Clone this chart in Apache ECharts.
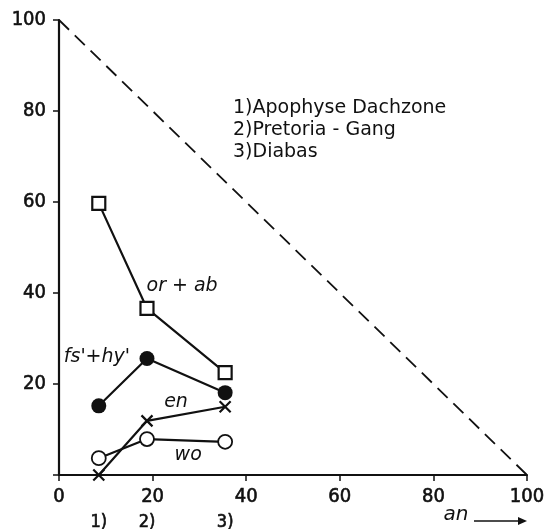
<!DOCTYPE html>
<html>
<head>
<meta charset="utf-8">
<script src="https://cdn.jsdelivr.net/npm/echarts@6/dist/echarts.min.js"></script>
<style>
  html, body { margin: 0; background: #fff; }
  #chart { width: 548px; height: 529px; }
</style>
</head>
<body>
<div id="chart"></div>
<script>
// an content of the three samples (x) and the normative components (y)
const anValues = [8.5, 18.8, 35.5];
const sampleTags = ["1)", "2)", "3)"];
const orAb = [59.7, 36.6, 22.5];
const fsHy = [15.2, 25.6, 18.1];
const enValues = [0, 11.9, 15];
const woValues = [3.7, 7.9, 7.3];
const tieLine = [[0, 100], [100, 0]];
const sampleNames = ["1)Apophyse Dachzone", "2)Pretoria - Gang", "3)Diabas"];
const curveLabels = [
  { text: "or + ab", at: [26.3, 41.6] },
  { text: "fs'+hy'", at: [8.1, 26] },
  { text: "en", at: [25, 16.1] },
  { text: "wo", at: [27.6, 4.4] },
];

const ink = "#111";
const tickFont = "DejaVu Sans Condensed";

function pairs(ys) {
  return anValues.map((x, i) => [x, ys[i]]);
}

function curve(name, ys, symbol, size, fill, border) {
  return {
    name,
    type: "line",
    data: pairs(ys),
    symbol,
    symbolSize: size,
    showAllSymbol: true,
    lineStyle: { color: ink, width: 2.2 },
    itemStyle: { color: fill, borderColor: ink, borderWidth: border },
    z: 3,
  };
}

// tick labels: tall condensed digits, slightly thickened like the print
const tickLabel = {
  color: ink,
  fontFamily: tickFont,
  fontSize: 20,
  textBorderColor: ink,
  textBorderWidth: 0.6,
};

const chart = echarts.init(document.getElementById("chart"));

chart.setOption({
  animation: false,
  grid: { left: 59, right: 21, top: 20, bottom: 54 },
  xAxis: {
    type: "value",
    min: 0,
    max: 100,
    interval: 20,
    axisLine: { lineStyle: { color: ink, width: 2.2 } },
    axisTick: { show: true, length: 6, lineStyle: { color: ink, width: 1.5 } },
    axisLabel: Object.assign({ margin: 12 }, tickLabel),
    splitLine: { show: false },
  },
  yAxis: {
    type: "value",
    min: 0,
    max: 100,
    interval: 20,
    axisLine: { lineStyle: { color: ink, width: 2.2 } },
    axisTick: { show: true, length: 6, lineStyle: { color: ink, width: 1.5 } },
    axisLabel: Object.assign({ margin: 13, formatter: (v) => (v === 0 ? "" : v) }, tickLabel),
    splitLine: { show: false },
  },
  series: [
    {
      name: "tie",
      type: "line",
      data: tieLine,
      symbol: "none",
      lineStyle: { color: ink, width: 1.8, type: [14, 8] },
      z: 1,
    },
    curve("or+ab", orAb, "rect", 13, "#fff", 2.2),
    curve("fs+hy", fsHy, "circle", 15, ink, 0),
    curve("en", enValues, "path://M0,0L10,10M10,0L0,10", 11, "none", 2.2),
    curve("wo", woValues, "circle", 14, "#fff", 1.8),
  ],
});

// text overlays, placed through the axes
const graphics = [];
curveLabels.forEach((lab) => {
  const [px, py] = chart.convertToPixel({ gridIndex: 0 }, lab.at);
  graphics.push({
    type: "text",
    x: px,
    y: py,
    style: {
      text: lab.text,
      fill: ink,
      font: "italic 19px 'DejaVu Sans'",
      textAlign: "center",
      textVerticalAlign: "middle",
    },
  });
});
anValues.forEach((x, i) => {
  const [px, py] = chart.convertToPixel({ gridIndex: 0 }, [x, 0]);
  graphics.push({
    type: "text",
    x: px,
    y: py + 47,
    style: {
      text: sampleTags[i],
      fill: ink,
      font: "18px '" + tickFont + "'",
      stroke: ink,
      lineWidth: 0.6,
      textAlign: "center",
      textVerticalAlign: "middle",
    },
  });
});
sampleNames.forEach((name, i) => {
  graphics.push({
    type: "text",
    x: 233,
    y: 108 + i * 22,
    style: {
      text: name,
      fill: ink,
      font: "19px 'DejaVu Sans'",
      textVerticalAlign: "middle",
    },
  });
});
// axis name "an" with arrow
graphics.push({
  type: "text",
  x: 456,
  y: 515,
  style: { text: "an", fill: ink, font: "italic 20px 'DejaVu Sans'", textAlign: "center", textVerticalAlign: "middle" },
});
graphics.push({
  type: "line",
  shape: { x1: 474, y1: 521, x2: 524, y2: 521 },
  style: { stroke: ink, lineWidth: 1.3 },
});
graphics.push({
  type: "polygon",
  shape: { points: [[527, 521], [518, 517], [518, 525]] },
  style: { fill: ink },
});

chart.setOption({ graphic: graphics });
</script>
</body>
</html>
